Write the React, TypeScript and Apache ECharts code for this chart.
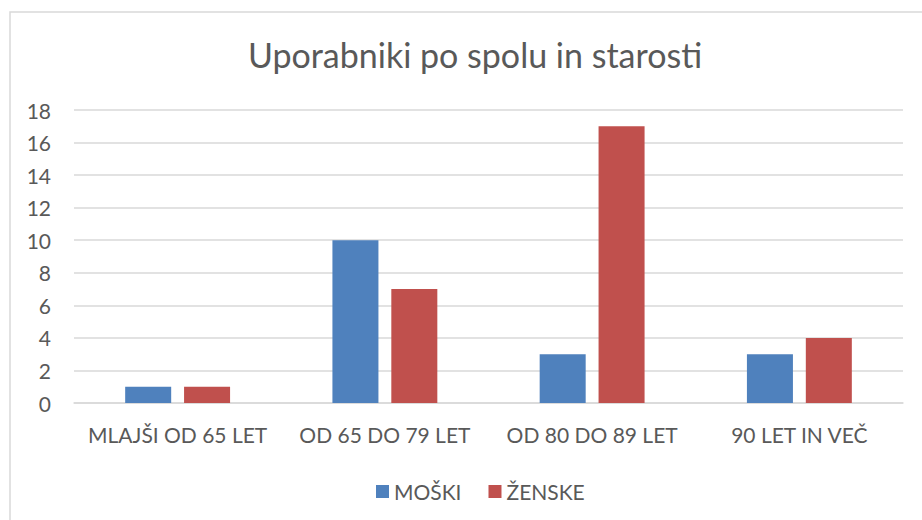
import React, { useEffect, useRef } from "react";
import * as echarts from "echarts";

const categories = ["MLAJŠI OD 65 LET", "OD 65 DO 79 LET", "OD 80 DO 89 LET", "90 LET IN VEČ"];
const moski = [1, 10, 3, 3];
const zenske = [1, 7, 17, 4];
const seriesNames = ["MOŠKI", "ŽENSKE"];
const titleText = "Uporabniki po spolu in starosti";

const FONT = "Lato, 'Open Sans', sans-serif";
const TXT = "#595959";

export default function App() {
  const ref = useRef<HTMLDivElement>(null);
  useEffect(() => {
    if (!ref.current) return;
    const chart = echarts.init(ref.current, null, { renderer: "svg" });
    chart.setOption({
      animation: false,
      backgroundColor: "#ffffff",
      title: {
        text: titleText,
        left: 470,
        textAlign: "center",
        top: 32,
        textStyle: { fontFamily: FONT, fontSize: 34, fontWeight: "normal", color: TXT },
      },
      graphic: [
        {
          type: "rect",
          shape: { x: 10, y: 12, width: 930, height: 530 },
          style: { fill: "none", stroke: "#d9d9d9", lineWidth: 1.5 },
          silent: true,
        },
      ],
      legend: {
        data: seriesNames,
        top: 476,
        left: 371,
        itemWidth: 13,
        itemHeight: 13,
        itemGap: 27,
        icon: "rect",
        textStyle: { fontFamily: FONT, fontSize: 21, color: TXT, padding: [0, 0, 0, 0] },
      },
      grid: { left: 74, right: 19, top: 110, bottom: 117, containLabel: false },
      xAxis: {
        type: "category",
        data: categories,
        axisLine: { lineStyle: { color: "#d9d9d9", width: 1.5 } },
        axisTick: { show: false },
        axisLabel: { fontFamily: FONT, fontSize: 21, color: TXT, margin: 21, interval: 0 },
      },
      yAxis: {
        type: "value",
        min: 0,
        max: 18,
        interval: 2,
        axisLine: { show: false },
        axisTick: { show: false },
        splitLine: { lineStyle: { color: "#d9d9d9", width: 1.5 } },
        axisLabel: { fontFamily: FONT, fontSize: 21, color: TXT, margin: 23 },
      },
      series: [
        {
          name: seriesNames[0],
          type: "bar",
          data: moski,
          barWidth: "22.2%",
          barGap: "28%",
          itemStyle: { color: "#4F81BD" },
        },
        {
          name: seriesNames[1],
          type: "bar",
          data: zenske,
          barWidth: "22.2%",
          itemStyle: { color: "#C0504D" },
        },
      ],
    });
    return () => chart.dispose();
  }, []);
  return (
    <div
      ref={ref}
      style={{ position: "fixed", left: 0, top: 0, width: 922, height: 520, background: "#fff" }}
    />
  );
}
